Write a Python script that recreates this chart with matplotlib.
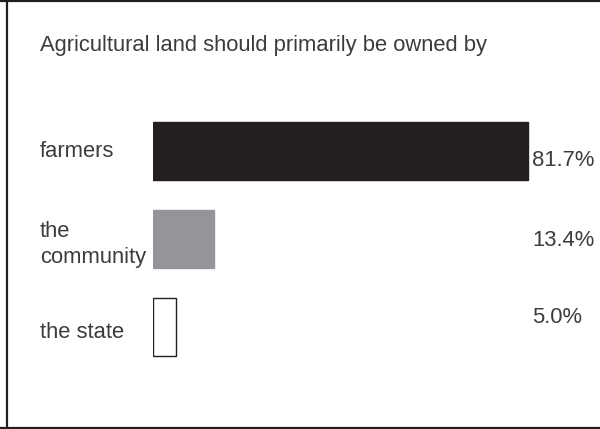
import matplotlib
matplotlib.use('Agg')

import matplotlib.pyplot as plt
import matplotlib.transforms as mtransforms
from matplotlib.lines import Line2D

# Ownership of agricultural land, survey shares in percent
title = "Agricultural land should primarily be owned by"
categories = ["farmers", "the\ncommunity", "the state"]
shares = [81.7, 13.4, 5.0]
valueLabels = ["81.7%", "13.4%", "5.0%"]

# styles
faceColors = ["#231f20", "#939598", "white"]
edgeColors = ["#231f20", "#939598", "#231f20"]
textColor = "#3c3c3c"
# vertical nudges of the value labels (points), as in the original layout
valueNudge = [-7, -1, 7]
catNudge = [0, -4, -4]

plt.rcParams['font.family'] = ['Liberation Sans', 'DejaVu Sans']
fs = 15.8

W, H, dpi = 600, 429, 100
fig = plt.figure(figsize=(W/dpi, H/dpi), dpi=dpi)

# axes placed so that x=0 sits at the bar start, 4.59 px per percent
ax = fig.add_axes([153/W, 1-371/H, 413/W, 264/H])
ax.set_xlim(0, 90)
ax.set_ylim(2.5, -0.5)
ax.axis('off')

ypos = list(range(len(categories)))
ax.barh(ypos, shares, height=0.66, color=faceColors, edgecolor=edgeColors, linewidth=1.0)

# labels: x in figure fraction, y in data
trans = mtransforms.blended_transform_factory(fig.transFigure, ax.transData)
for y, cat, val, dv, dc in zip(ypos, categories, valueLabels, valueNudge, catNudge):
    ax.annotate(cat, xy=(40/W, y), xycoords=trans, xytext=(0, dc), textcoords='offset points',
                ha='left', va='center', fontsize=fs, color=textColor, linespacing=1.3)
    ax.annotate(val, xy=(532/W, y), xycoords=trans, xytext=(0, dv), textcoords='offset points',
                ha='left', va='center', fontsize=fs, color=textColor)

fig.text(40/W, 1-45/H, title, ha='left', va='center', fontsize=fs, color=textColor)

# frame around the figure (right edge is cut off in the original)
frameKw = dict(color="#231f20", linewidth=1.6, transform=fig.transFigure)
fig.add_artist(Line2D([7/W, 7/W], [0, 1], **frameKw))
fig.add_artist(Line2D([0, 1], [1-1/H, 1-1/H], **frameKw))
fig.add_artist(Line2D([0, 1], [1-427.5/H, 1-427.5/H], **frameKw))

fig.savefig("out.png", dpi=dpi)
